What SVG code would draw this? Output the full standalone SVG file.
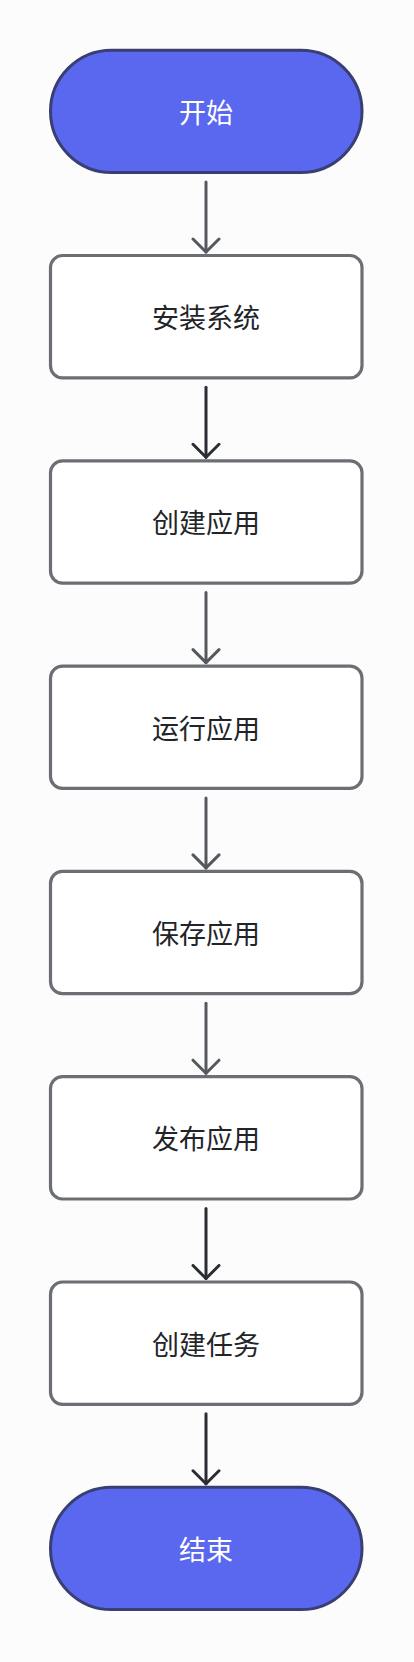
<svg xmlns="http://www.w3.org/2000/svg" width="414" height="1662" viewBox="0 0 414 1662">
  <style>
    .bg { fill: #fcfcfd; }
    .term rect { fill: #5a68f0; stroke: #393f72; stroke-width: 3; }
    .proc rect { fill: #ffffff; stroke: #6b6e73; stroke-width: 3.2; }
    text { font-family: "Noto Sans CJK SC", "Noto Sans", sans-serif; font-size: 27px; text-anchor: middle; dominant-baseline: central; }
    .term text { fill: #ffffff; }
    .proc text { fill: #222428; }
    .edge { fill: none; stroke-width: 3; stroke-linecap: round; }
    .light { stroke: #55585e; }
    .dark { stroke: #2a2d33; }
  </style>
  <defs>
    <marker id="ahLight" viewBox="0 0 30 30" refX="15" refY="15" markerWidth="30" markerHeight="30" markerUnits="userSpaceOnUse" orient="auto">
      <path d="M 2 2 L 15 15 L 2 28" fill="none" stroke="#55585e" stroke-width="3" stroke-linecap="round" stroke-linejoin="round"/>
    </marker>
    <marker id="ahDark" viewBox="0 0 30 30" refX="15" refY="15" markerWidth="30" markerHeight="30" markerUnits="userSpaceOnUse" orient="auto">
      <path d="M 2 2 L 15 15 L 2 28" fill="none" stroke="#2a2d33" stroke-width="3" stroke-linecap="round" stroke-linejoin="round"/>
    </marker>
  </defs>
  <rect class="bg" x="0" y="0" width="414" height="1662"/>

  <g id="connectors">
    <path class="edge light" d="M 206 182 L 206 252" marker-end="url(#ahLight)"/>
    <path class="edge dark" d="M 206 387.3 L 206 457.3" marker-end="url(#ahDark)"/>
    <path class="edge light" d="M 206 592.6 L 206 662.6" marker-end="url(#ahLight)"/>
    <path class="edge light" d="M 206 797.9 L 206 867.9" marker-end="url(#ahLight)"/>
    <path class="edge light" d="M 206 1003.2 L 206 1073.2" marker-end="url(#ahLight)"/>
    <path class="edge dark" d="M 206 1208.5 L 206 1278.5" marker-end="url(#ahDark)"/>
    <path class="edge dark" d="M 206 1413.8 L 206 1483.8" marker-end="url(#ahDark)"/>
  </g>

  <g id="start" class="term">
    <rect x="50.5" y="50.2" width="311.5" height="122.3" rx="61.15" ry="61.15"/>
    <text x="206" y="111.3">开始</text>
  </g>
  <g id="install" class="proc">
    <rect x="50.5" y="255.5" width="311.5" height="122.3" rx="12" ry="12"/>
    <text x="206" y="316.6">安装系统</text>
  </g>
  <g id="create-app" class="proc">
    <rect x="50.5" y="460.8" width="311.5" height="122.3" rx="12" ry="12"/>
    <text x="206" y="521.9">创建应用</text>
  </g>
  <g id="run-app" class="proc">
    <rect x="50.5" y="666.1" width="311.5" height="122.3" rx="12" ry="12"/>
    <text x="206" y="727.2">运行应用</text>
  </g>
  <g id="save-app" class="proc">
    <rect x="50.5" y="871.4" width="311.5" height="122.3" rx="12" ry="12"/>
    <text x="206" y="932.5">保存应用</text>
  </g>
  <g id="publish-app" class="proc">
    <rect x="50.5" y="1076.7" width="311.5" height="122.3" rx="12" ry="12"/>
    <text x="206" y="1137.8">发布应用</text>
  </g>
  <g id="create-task" class="proc">
    <rect x="50.5" y="1282" width="311.5" height="122.3" rx="12" ry="12"/>
    <text x="206" y="1343.1">创建任务</text>
  </g>
  <g id="end" class="term">
    <rect x="50.5" y="1487.3" width="311.5" height="122.3" rx="61.15" ry="61.15"/>
    <text x="206" y="1548.4">结束</text>
  </g>
</svg>
